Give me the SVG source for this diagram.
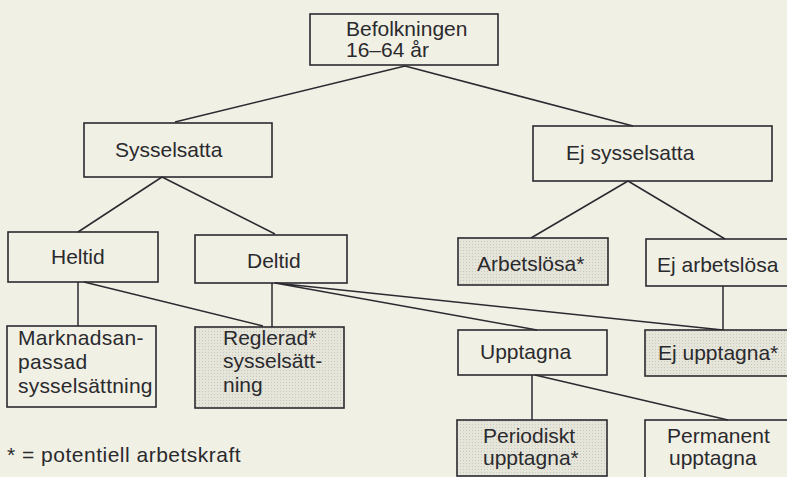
<svg xmlns="http://www.w3.org/2000/svg" width="787" height="477" viewBox="0 0 787 477">
<defs>
<pattern id="dots" width="3" height="3" patternUnits="userSpaceOnUse">
<rect width="3" height="3" fill="#e6e5da"/>
<rect x="1" y="1" width="1" height="1" fill="#c9c8c0"/>
</pattern>
</defs>
<style>
.box{fill:none;stroke:#2b2a30;stroke-width:1.6}
.sh{fill:url(#dots);stroke:#2b2a30;stroke-width:1.6}
.ln{fill:none;stroke:#2b2a30;stroke-width:1.5}
text{font-family:"Liberation Sans",Arial,sans-serif;font-size:21px;fill:#2a2a2e}
</style>
<rect width="787" height="477" fill="#f1f0e4"/>
<g id="connectors">
<path class="ln" d="M405 66 L175 122 M405 66 L633 126"/>
<path class="ln" d="M162 177 L78 232 M162 177 L275 234"/>
<path class="ln" d="M628 181 L531 238 M628 181 L725 239"/>
<path class="ln" d="M78 282 V326 M84 282 L263 326"/>
<path class="ln" d="M272 283 V327 M275 283 L537 330 M275 283 L723 330"/>
<path class="ln" d="M723 286 V330"/>
<path class="ln" d="M532 375 V420 M535 375 L728 420"/>
</g>
<g id="befolkningen"><rect class="box" x="310" y="14" width="188" height="51"/><text x="346" y="36">Befolkningen</text><text x="346" y="57">16–64 år</text></g>
<g id="sysselsatta"><rect class="box" x="84" y="123" width="188" height="54"/><text x="115" y="157">Sysselsatta</text></g>
<g id="ej-sysselsatta"><rect class="box" x="533" y="126" width="239" height="55"/><text x="566" y="160">Ej sysselsatta</text></g>
<g id="heltid"><rect class="box" x="8" y="232" width="150" height="50"/><text x="51" y="264">Heltid</text></g>
<g id="deltid"><rect class="box" x="195" y="235" width="152" height="48"/><text x="247" y="268">Deltid</text></g>
<g id="arbetslosa"><rect class="sh" x="458" y="238" width="150" height="47"/><text x="477" y="271">Arbetslösa*</text></g>
<g id="ej-arbetslosa"><rect class="box" x="646" y="239" width="150" height="47"/><text x="657" y="272">Ej arbetslösa</text></g>
<g id="marknadsanpassad"><rect class="box" x="7" y="326" width="149" height="81"/><text x="18" y="345" letter-spacing="0.3">Marknadsan-</text><text x="18" y="369" letter-spacing="0.3">passad</text><text x="18" y="393" letter-spacing="0.2">sysselsättning</text></g>
<g id="reglerad"><rect class="sh" x="195" y="327" width="149" height="81"/><text x="223" y="345">Reglerad*</text><text x="223" y="368">sysselsätt-</text><text x="223" y="392">ning</text></g>
<g id="upptagna"><rect class="box" x="458" y="330" width="149" height="45"/><text x="480" y="359">Upptagna</text></g>
<g id="ej-upptagna"><rect class="sh" x="645" y="330" width="150" height="46"/><text x="658" y="360">Ej upptagna*</text></g>
<g id="periodiskt"><rect class="sh" x="457" y="420" width="150" height="56"/><text x="483" y="443">Periodiskt</text><text x="483" y="465">upptagna*</text></g>
<g id="permanent"><rect class="box" x="645" y="420" width="150" height="60"/><text x="667" y="443">Permanent</text><text x="669" y="465">upptagna</text></g>
<g id="footnote"><text x="7" y="462" letter-spacing="0.5">* = potentiell arbetskraft</text></g>
</svg>
